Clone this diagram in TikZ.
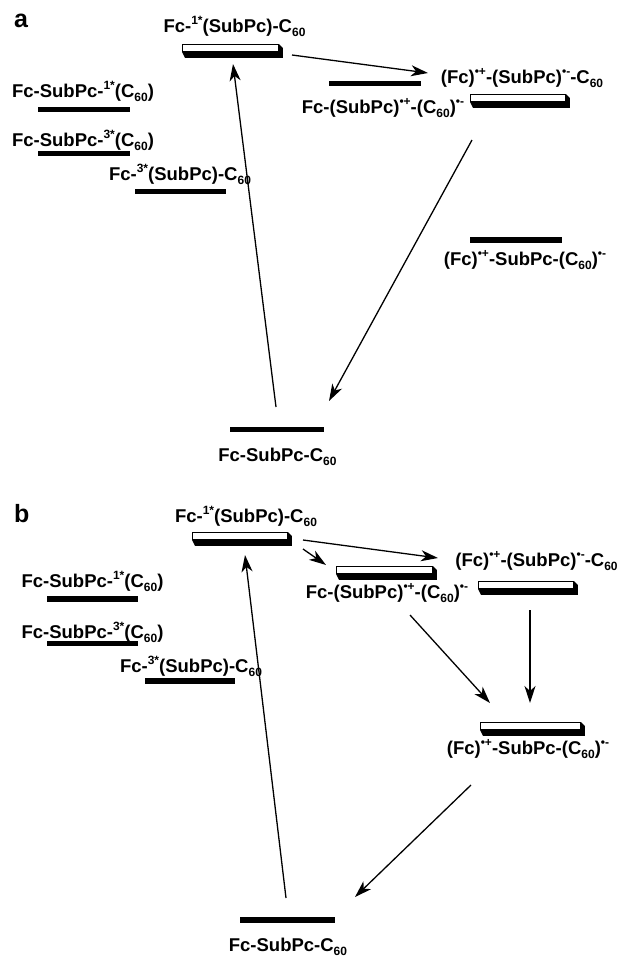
\documentclass[tikz,border=0pt]{standalone}
\usepackage{fontspec}
\setmainfont{Liberation Sans}
\usetikzlibrary{arrows.meta}
\newcommand\sP[1]{\raisebox{0.40em}{\fontsize{12}{12}\selectfont #1}}
\newcommand\sB[1]{\raisebox{-0.22em}{\fontsize{12}{12}\selectfont #1}}
\newcommand\slabat[5]{% name, x1, y1, width
  \node[slab, minimum width=#4, anchor=north west] (#1) at (#2,#3) {};
  \fill (#1.south west) -- (#1.south east) -- (#1.north east) -- ++(4,4)
    -- ([shift={(4,6)}]#1.south east) -- ([shift={(3,6)}]#1.south west) -- cycle;}
\tikzset{
  lbl/.style={font=\bfseries\fontsize{18.5}{18.5}\selectfont, inner sep=0, anchor=base},
  bar/.style={fill=black, inner sep=0, minimum height=5.5, minimum width=92},
  slab/.style={draw=black, line width=0.9, fill=white, inner sep=0, minimum height=7},
  arr/.style={line width=1.3, -{Stealth[length=17,width=11,inset=5]}},
  panel/.style={font=\bfseries\fontsize{25}{25}\selectfont, inner sep=0, anchor=base west}
}
\begin{document}
\begin{tikzpicture}[x=1pt,y=-1pt]
\useasboundingbox[fill=white] (0,0) rectangle (624,956);
% ---------------- panel a ----------------
\node[panel] (pa) at (14,27) {a};
\node[lbl] (a1l) at (234.5,32) {Fc-\sP{1*}(SubPc)-C\sB{60}};
\slabat{a1}{182}{44}{96}{}
\node[lbl] (a2l) at (83,97) {Fc-SubPc-\sP{1*}(C\sB{60})};
\node[bar] (a2) at (84,109.5) {};
\node[lbl] (a3l) at (83,146) {Fc-SubPc-\sP{3*}(C\sB{60})};
\node[bar] (a3) at (84,153.5) {};
\node[lbl] (a4l) at (180,180) {Fc-\sP{3*}(SubPc)-C\sB{60}};
\node[bar, minimum width=91] (a4) at (180.5,191.5) {};
\node[lbl] (a5l) at (522,83) {(Fc)\sP{•+}-(SubPc)\sP{•-}-C\sB{60}};
\slabat{a5}{470}{94}{95}{}
\node[bar] (a6) at (375,83.5) {};
\node[lbl] (a6l) at (383,113) {Fc-(SubPc)\sP{•+}-(C\sB{60})\sP{•-}};
\node[bar] (a7) at (516,240) {};
\node[lbl] (a7l) at (525,265) {(Fc)\sP{•+}-SubPc-(C\sB{60})\sP{•-}};
\node[bar, minimum width=94] (a0) at (277,429.5) {};
\node[lbl] (a0l) at (277.5,461) {Fc-SubPc-C\sB{60}};
\coordinate (au1) at (276,407); \coordinate (au2) at (233,64);
\coordinate (ar1) at (292,55);  \coordinate (ar2) at (428,73);
\coordinate (ad1) at (472,140); \coordinate (ad2) at (329,401);
\draw[arr] (au1) -- (au2);
\draw[arr] (ar1) -- (ar2);
\draw[arr] (ad1) -- (ad2);
% ---------------- panel b ----------------
\node[panel] (pb) at (14,522) {b};
\node[lbl] (b1l) at (246,522) {Fc-\sP{1*}(SubPc)-C\sB{60}};
\slabat{b1}{192}{532}{95}{}
\node[lbl] (b2l) at (92.5,587) {Fc-SubPc-\sP{1*}(C\sB{60})};
\node[bar, minimum width=91] (b2) at (92.5,599) {};
\node[lbl] (b3l) at (92.5,638) {Fc-SubPc-\sP{3*}(C\sB{60})};
\node[bar, minimum width=91] (b3) at (92.5,643.5) {};
\node[lbl] (b4l) at (191,672) {Fc-\sP{3*}(SubPc)-C\sB{60}};
\node[bar, minimum width=90] (b4) at (190,681) {};
\node[lbl] (b5l) at (536.5,566) {(Fc)\sP{•+}-(SubPc)\sP{•-}-C\sB{60}};
\slabat{b5}{478}{581}{95}{}
\slabat{b6}{336}{566}{96}{}
\node[lbl] (b6l) at (387,598) {Fc-(SubPc)\sP{•+}-(C\sB{60})\sP{•-}};
\slabat{b7}{480}{722}{100}{}
\node[lbl] (b7l) at (528,754) {(Fc)\sP{•+}-SubPc-(C\sB{60})\sP{•-}};
\node[bar, minimum width=95] (b0) at (287.5,920) {};
\node[lbl] (b0l) at (288,951) {Fc-SubPc-C\sB{60}};
\coordinate (bu1) at (286,898); \coordinate (bu2) at (245,555);
\coordinate (bs1) at (303,549); \coordinate (bs2) at (326,565);
\coordinate (bl1) at (303,540); \coordinate (bl2) at (438,558);
\coordinate (bg1) at (410,615); \coordinate (bg2) at (490,703);
\coordinate (bv1) at (530,610); \coordinate (bv2) at (530,703);
\coordinate (bd1) at (471,785); \coordinate (bd2) at (355,897);
\draw[arr] (bu1) -- (bu2);
\draw[arr] (bs1) -- (bs2);
\draw[arr] (bl1) -- (bl2);
\draw[arr] (bg1) -- (bg2);
\draw[arr] (bv1) -- (bv2);
\draw[arr] (bd1) -- (bd2);
\end{tikzpicture}
\end{document}
